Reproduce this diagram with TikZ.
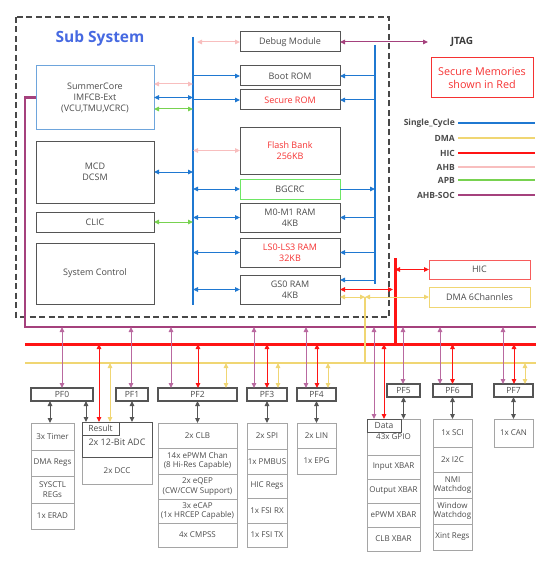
\documentclass[tikz,border=0pt]{standalone}
\usepackage{fontspec}
\setmainfont{Open Sans}
\usetikzlibrary{arrows.meta}

\definecolor{scblue}{RGB}{31,120,209}
\definecolor{titleblue}{RGB}{70,105,225}
\definecolor{corblue}{RGB}{110,165,220}
\definecolor{ahbpink}{RGB}{248,190,190}
\definecolor{apbgreen}{RGB}{120,210,80}
\definecolor{bgcgreen}{RGB}{110,230,100}
\definecolor{dmayellow}{RGB}{240,214,115}
\definecolor{hicred}{RGB}{255,20,20}
\definecolor{secred}{RGB}{245,50,50}
\definecolor{socpurple}{RGB}{165,65,125}
\definecolor{socarrow}{RGB}{185,105,160}
\definecolor{boxgray}{RGB}{85,85,85}
\definecolor{cellgray}{RGB}{165,165,165}
\definecolor{txtgray}{RGB}{75,75,75}

\tikzset{
  box/.style={draw=boxgray, line width=1pt, text=txtgray, align=center, inner sep=0pt, outer sep=0pt,
    font=\fontsize{9}{11}\selectfont},
  pfbox/.style={draw=boxgray, line width=1.2pt, text=txtgray, inner sep=0pt, outer sep=0pt,
    minimum height=13pt, font=\fontsize{8.5}{9}\selectfont},
  cell/.style={draw=cellgray, line width=0.8pt, text=txtgray, align=center, inner sep=0pt, outer sep=0pt,
    font=\fontsize{8}{9.5}\selectfont},
  tagbox/.style={draw=boxgray, line width=1pt, fill=white, text=txtgray, inner sep=0pt, outer sep=0pt,
    minimum height=13pt, font=\fontsize{8.5}{9}\selectfont},
  legend/.style={anchor=east, text=txtgray, inner sep=0pt, font=\bfseries\fontsize{8.5}{10}\selectfont},
  sc/.style={draw=scblue, line width=1pt},
  ahb/.style={draw=ahbpink, line width=1pt},
  apb/.style={draw=apbgreen, line width=1pt},
  soc/.style={draw=socarrow, line width=1pt},
  hicarr/.style={draw=hicred, line width=1pt},
  dmaarr/.style={draw=dmayellow, line width=1pt},
  pfarr/.style={draw=boxgray, line width=1pt},
  bus/.style={line width=2.6pt}
}

\begin{document}
\begin{tikzpicture}[x=1pt, y=-1pt, >={Triangle[length=5pt,width=4.5pt]}]
\useasboundingbox (0,0) rectangle (553,567);

\draw [draw=boxgray!85!black, line width=1.5pt, dash pattern=on 6pt off 3.5pt] (16,17) rectangle (389,317);
\node [text=titleblue, font=\bfseries\fontsize{15.5}{18}\selectfont] (subsys) at (100,38) {Sub System};

\node [box, draw=corblue, minimum width=118pt, minimum height=63pt] (summer) at (95,97.5) {SummerCore\\IMFCB-Ext\\(VCU,TMU,VCRC)};
\node [box, minimum width=118pt, minimum height=62pt] (mcd) at (95,172) {MCD\\DCSM};
\node [box, minimum width=118pt, minimum height=20pt] (clic) at (95,222) {CLIC};
\node [box, minimum width=118pt, minimum height=61pt] (sysctl) at (95,273.5) {System Control};

\node [box, minimum width=100pt, minimum height=20pt] (debug) at (290,42) {Debug Module};
\node [box, minimum width=100pt, minimum height=20pt] (boot) at (290,76) {Boot ROM};
\node [box, text=secred, minimum width=100pt, minimum height=20pt] (secrom) at (290,100) {Secure ROM};
\node [box, text=secred, minimum width=100pt, minimum height=47pt] (flash) at (290,150.5) {Flash Bank\\256KB};
\node [box, draw=bgcgreen, minimum width=100pt, minimum height=20pt] (bgcrc) at (290,189) {BGCRC};
\node [box, minimum width=100pt, minimum height=29pt] (m0m1) at (290,217.5) {M0-M1 RAM\\4KB};
\node [box, text=secred, minimum width=100pt, minimum height=29pt] (ls) at (290,252.5) {LS0-LS3 RAM\\32KB};
\node [box, minimum width=100pt, minimum height=29pt] (gs0) at (290,289.5) {GS0 RAM\\4KB};

\node [text=txtgray!80!black, font=\bfseries\fontsize{10}{12}\selectfont] (jtag) at (462,42) {JTAG};
\coordinate (jtagin) at (428,42);
\node [box, draw=secred, text=secred, font=\fontsize{10.8}{13}\selectfont, minimum width=102pt, minimum height=40pt] (secnote) at (482,78) {Secure Memories\\shown in Red};

\node [box, draw=secred!80, minimum width=101pt, minimum height=19pt] (hic) at (479.5,269.5) {HIC};
\node [box, draw=dmayellow, minimum width=101pt, minimum height=20pt] (dma) at (479.5,297) {DMA 6Channles};

\node [legend] (lsc) at (455,123) {Single\_Cycle};
\node [legend] (ldma) at (455,138) {DMA};
\node [legend] (lhic) at (455,153) {HIC};
\node [legend] (lahb) at (455,167) {AHB};
\node [legend] (lapb) at (455,180) {APB};
\node [legend] (lsoc) at (455,195) {AHB-SOC};
\draw [sc, line width=2pt] ([xshift=3pt]lsc.east) -- ++(77,0);
\draw [dmaarr, line width=2pt] ([xshift=3pt]ldma.east) -- ++(77,0);
\draw [hicarr, line width=2pt] ([xshift=3pt]lhic.east) -- ++(77,0);
\draw [ahb, line width=2pt] ([xshift=3pt]lahb.east) -- ++(77,0);
\draw [apb, line width=2pt] ([xshift=3pt]lapb.east) -- ++(77,0);
\draw [draw=socpurple, line width=2pt] ([xshift=3pt]lsoc.east) -- ++(77,0);

\coordinate (scL) at (193,37);
\coordinate (scLb) at (193,305);
\coordinate (scR) at (375,45);
\coordinate (scRb) at (375,284);
\coordinate (socC) at (25,97.5);
\coordinate (socL) at (25,327);
\coordinate (socR) at (536,327);
\coordinate (hicL) at (25,344);
\coordinate (hicR) at (536,344);
\coordinate (dmaL) at (25,363);
\coordinate (dmaR) at (536,363);
\coordinate (hicT) at (395,258);
\coordinate (hicB) at (395,344);
\coordinate (dmaT) at (365,297);
\coordinate (dmaB) at (365,363);

\draw [bus, draw=scblue] (scL) -- (scLb);
\draw [bus, draw=scblue] (scR) -- (scRb);
\draw [bus, draw=socpurple] (summer.west) -- (socC) -- (socL) -- (socR);
\draw [bus, draw=hicred, line width=3pt] (hicL) -- (hicR);
\draw [bus, draw=dmayellow] (dmaL) -- (dmaR);
\draw [bus, draw=hicred, line width=3pt] (hicT) -- (hicB);
\draw [bus, draw=dmayellow] (dmaT) -- (dmaB);

\draw [ahb, <->] ([yshift=13.5pt]summer.east) -- ([yshift=13.5pt]summer.east -| scL);
\draw [sc, <->] (summer.east) -- (summer.east -| scL);
\draw [apb, <->] ([yshift=-11.5pt]summer.east) -- ([yshift=-11.5pt]summer.east -| scL);
\draw [sc, <->] (mcd.east) -- (mcd.east -| scL);
\draw [apb, <->] (clic.east) -- (clic.east -| scL);

\draw [ahb, <->] ([xshift=4pt]debug.west -| scL) -- (debug.west);
\draw [soc, draw=socpurple, <->] (debug) -- (jtagin);
\draw [sc, ->] (boot.west -| scL) -- (boot.west);
\draw [sc, ->] (boot.east -| scR) -- (boot.east);
\draw [sc, ->] (secrom.west -| scL) -- (secrom.west);
\draw [sc, ->] (secrom.east -| scR) -- (secrom.east);
\draw [ahb, <->] (flash.west -| scL) -- (flash.west);
\draw [sc, <->] (bgcrc.west -| scL) -- (bgcrc.west);
\draw [sc, ->] (bgcrc.east) -- (bgcrc.east -| scR);
\draw [sc, <->] (m0m1.west -| scL) -- (m0m1.west);
\draw [sc, ->] (m0m1.east -| scR) -- (m0m1.east);
\draw [sc, <->] (ls.west -| scL) -- (ls.west);
\draw [sc, ->] (ls.east -| scR) -- (ls.east);
\draw [sc, <->] (gs0.west -| scL) -- (gs0.west);
\draw [sc, ->] ([yshift=9.5pt]gs0.east -| scR) -- ([yshift=9.5pt]gs0.east);
\draw [hicarr, <->] (gs0.east) -- ([xshift=-2pt]gs0.east -| hicT);
\draw [dmaarr, <->] ([yshift=-7.5pt]gs0.east) -- ([yshift=-7.5pt]gs0.east -| dmaT);
\draw [dmaarr, <->] (dmaT) -- (dma.west);
\draw [hicarr, <->] (hic.west -| hicT) -- (hic.west);

\node [pfbox, minimum width=62pt] (pf0) at (62,394.5) {PF0};
\node [pfbox, minimum width=32pt] (pf1) at (132,394.5) {PF1};
\node [pfbox, minimum width=79pt] (pf2) at (197.5,394.5) {PF2};
\node [pfbox, minimum width=40pt] (pf3) at (267,394.5) {PF3};
\node [pfbox, minimum width=39pt] (pf4) at (316.5,394.5) {PF4};
\node [pfbox, minimum width=33pt] (pf5) at (403.5,390.5) {PF5};
\node [pfbox, minimum width=39pt] (pf6) at (452.5,390.5) {PF6};
\node [pfbox, minimum width=39pt] (pf7) at (513.5,390.5) {PF7};

\node [cell, minimum width=43pt, minimum height=27pt] (timer) at (52.5,436.5) {3x Timer};
\node [cell, minimum width=43pt, minimum height=26pt] (dmaregs) at (52.5,463) {DMA Regs};
\node [cell, minimum width=43pt, minimum height=27pt] (sysregs) at (52.5,489.5) {SYSCTL\\REGs};
\node [cell, minimum width=43pt, minimum height=26pt] (erad) at (52.5,516) {1x ERAD};

\node [cell, minimum width=70pt, minimum height=27pt] (dcc) at (117,470.5) {2x DCC};
\node [box, minimum width=70pt, minimum height=35pt, text depth=0pt] (adc) at (117,439.5) {\raisebox{-5pt}{2x 12-Bit ADC}};
\node [tagbox, minimum width=37pt] (result) at (100.5,428.5) {Result};

\node [cell, minimum width=79pt, minimum height=25pt] (clb) at (197.5,435.5) {2x CLB};
\node [cell, minimum width=79pt, minimum height=26pt] (epwm) at (197.5,461) {14x ePWM Chan\\(8 Hi-Res Capable)};
\node [cell, minimum width=79pt, minimum height=25pt] (eqep) at (197.5,486.5) {2x eQEP\\(CW/CCW Support)};
\node [cell, minimum width=79pt, minimum height=24pt] (ecap) at (197.5,511) {3x eCAP\\(1x HRCEP Capable)};
\node [cell, minimum width=79pt, minimum height=24pt] (cmpss) at (197.5,535) {4x CMPSS};

\node [cell, minimum width=40pt, minimum height=26pt] (spi) at (267,436) {2x SPI};
\node [cell, minimum width=40pt, minimum height=25pt] (pmbus) at (267,461.5) {1x PMBUS};
\node [cell, minimum width=40pt, minimum height=24pt] (hicregs) at (267,486) {HIC Regs};
\node [cell, minimum width=40pt, minimum height=25pt] (fsirx) at (267,510.5) {1x FSI RX};
\node [cell, minimum width=40pt, minimum height=24pt] (fsitx) at (267,535) {1x FSI TX};

\node [cell, minimum width=39pt, minimum height=25pt] (lin) at (316.5,435.5) {2x LIN};
\node [cell, minimum width=39pt, minimum height=26pt] (epg) at (316.5,461) {1x EPG};

\node [cell, minimum width=53pt, minimum height=36pt] (gpio) at (393.5,437) {\raisebox{-2pt}{43x GPIO}};
\node [cell, minimum width=53pt, minimum height=24pt] (inxbar) at (393.5,467) {Input XBAR};
\node [cell, minimum width=53pt, minimum height=24pt] (outxbar) at (393.5,491) {Output XBAR};
\node [cell, minimum width=53pt, minimum height=24pt] (pwmxbar) at (393.5,515) {ePWM XBAR};
\node [cell, minimum width=53pt, minimum height=24pt] (clbxbar) at (393.5,539) {CLB XBAR};
\node [tagbox, minimum width=34pt] (data) at (384,425.5) {Data};

\node [cell, minimum width=39pt, minimum height=28pt] (sci) at (452.5,433) {1x SCI};
\node [cell, minimum width=39pt, minimum height=25pt] (i2c) at (452.5,459.5) {2x I2C};
\node [cell, minimum width=39pt, minimum height=26pt] (nmi) at (452.5,485) {NMI\\Watchdog};
\node [cell, minimum width=39pt, minimum height=26pt] (wwd) at (452.5,511) {Window\\Watchdog};
\node [cell, minimum width=39pt, minimum height=26pt] (xint) at (452.5,537) {Xint Regs};

\node [cell, minimum width=39pt, minimum height=28pt] (can) at (513.5,433) {1x CAN};

\draw [soc, <->] (pf0.north |- socL) -- (pf0.north);
\draw [soc, <->] ([xshift=-1pt]pf1.north |- socL) -- ([xshift=-1pt]pf1.north);
\draw [soc, <->] ([xshift=-26.5pt]pf2.north |- socL) -- ([xshift=-26.5pt]pf2.north);
\draw [hicarr, <->] ([xshift=0.5pt]pf2.north |- hicL) -- ([xshift=0.5pt]pf2.north);
\draw [dmaarr, <->] ([xshift=28.5pt]pf2.north |- dmaL) -- ([xshift=28.5pt]pf2.north);
\draw [soc, <->] ([xshift=-13pt]pf3.north |- socL) -- ([xshift=-13pt]pf3.north);
\draw [hicarr, <->] (pf3.north |- hicL) -- (pf3.north);
\draw [dmaarr, <->] ([xshift=11pt]pf3.north |- dmaL) -- ([xshift=11pt]pf3.north);
\draw [soc, <->] ([xshift=-10.5pt]pf4.north |- socL) -- ([xshift=-10.5pt]pf4.north);
\draw [hicarr, <->] ([xshift=0.5pt]pf4.north |- hicL) -- ([xshift=0.5pt]pf4.north);
\draw [dmaarr, <->] ([xshift=11.5pt]pf4.north |- dmaL) -- ([xshift=11.5pt]pf4.north);
\draw [soc, <->] ([xshift=-10pt]data.north |- socL) -- ([xshift=-10pt]data.north);
\draw [hicarr, <->] (data.north |- hicL) -- (data.north);
\draw [soc, <->] ([xshift=-0.5pt]pf5.north |- socL) -- ([xshift=-0.5pt]pf5.north);
\draw [soc, <->] ([xshift=-12.5pt]pf6.north |- socL) -- ([xshift=-12.5pt]pf6.north);
\draw [hicarr, <->] (pf6.north |- hicL) -- (pf6.north);
\draw [soc, <->] ([xshift=-10.5pt]pf7.north |- socL) -- ([xshift=-10.5pt]pf7.north);
\draw [hicarr, <->] ([xshift=0.5pt]pf7.north |- hicL) -- ([xshift=0.5pt]pf7.north);
\draw [dmaarr, <->] ([xshift=11.5pt]pf7.north |- dmaL) -- ([xshift=11.5pt]pf7.north);
\draw [hicarr, <->] ([xshift=-1.5pt]result.north |- hicL) -- ([xshift=-1.5pt]result.north);
\draw [dmaarr, <->] ([xshift=9.5pt]result.north |- dmaL) -- ([xshift=9.5pt]result.north);

\draw [pfarr, <->] ([xshift=-2.5pt]timer.north |- pf0.south) -- ([xshift=-2.5pt]timer.north);
\draw [pfarr, <->] ([xshift=-14.5pt]result.north |- pf0.south) -- ([xshift=-14.5pt]result.north);
\draw [pfarr, <->] (pf1.south) -- (pf1.south |- adc.north);
\draw [pfarr, <->] (pf2.south) -- (clb.north);
\draw [pfarr, <->] (pf3.south) -- (spi.north);
\draw [pfarr, <->] (pf4.south) -- (lin.north);
\draw [pfarr, <->] (pf5.south) -- (pf5.south |- gpio.north);
\draw [pfarr, <->] (pf6.south) -- (sci.north);
\draw [pfarr, <->] (pf7.south) -- (can.north);
\end{tikzpicture}
\end{document}
